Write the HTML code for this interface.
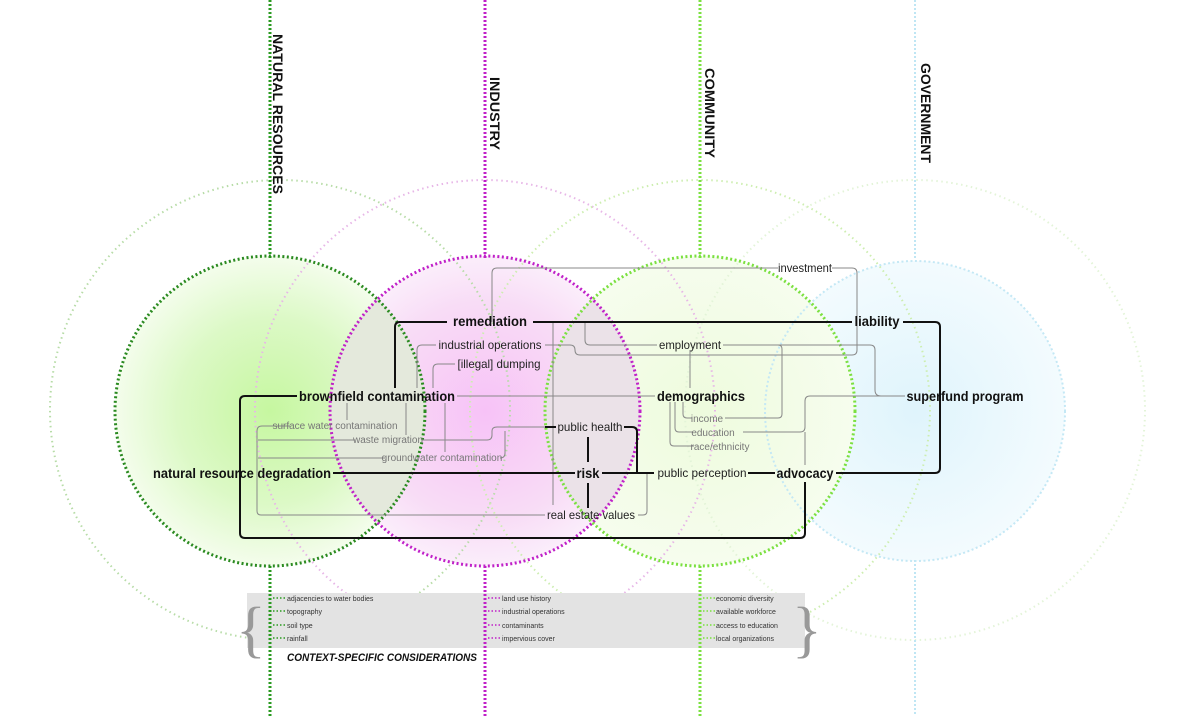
<!DOCTYPE html>
<html><head><meta charset="utf-8"><style>
html,body{margin:0;padding:0;background:#fff;}
svg{display:block;font-family:"Liberation Sans",sans-serif;}
.b{font-weight:bold;font-size:14px;fill:#111;}
.r{font-size:12px;fill:#222;}
.s{font-size:10px;fill:#777;}
.t{font-size:7px;fill:#333;}
.k{fill:none;stroke:#111;stroke-width:2;}
.g{fill:none;stroke:#888;stroke-width:1;}
</style></head><body>
<svg width="1200" height="716" viewBox="0 0 1200 716">
<defs>
<radialGradient id="gG"><stop offset="0" stop-color="#c6f7a0"/><stop offset="0.6" stop-color="#dcf9c6"/><stop offset="1" stop-color="#f4fdec"/></radialGradient>
<radialGradient id="gM"><stop offset="0" stop-color="#f7c2f7"/><stop offset="0.7" stop-color="#f8dcf6"/><stop offset="1" stop-color="#fbeefb"/></radialGradient>
<radialGradient id="gL"><stop offset="0" stop-color="#eefbdd"/><stop offset="1" stop-color="#f6fdee"/></radialGradient>
<radialGradient id="gB"><stop offset="0" stop-color="#dff4fc"/><stop offset="1" stop-color="#f3fbfe"/></radialGradient>
</defs>
<!-- fills -->
<circle cx="270" cy="411" r="155" fill="url(#gG)"/>
<circle cx="915" cy="411" r="150" fill="url(#gB)"/>
<circle cx="700" cy="411" r="155" fill="url(#gL)"/>
<circle cx="485" cy="411" r="155" fill="url(#gM)"/>
<path d="M377.5 299 A155 155 0 0 1 377.5 523 A155 155 0 0 1 377.5 299Z" fill="#e4e9dc"/>
<path d="M592.5 299 A155 155 0 0 1 592.5 523 A155 155 0 0 1 592.5 299Z" fill="#ebe2e8"/>
<!-- big faint circles -->
<g fill="none" stroke-width="2" stroke-dasharray="1.5 3.5">
<circle cx="280" cy="410" r="230" stroke="#b7dca7"/>
<circle cx="485" cy="410" r="230" stroke="#e7b6e7"/>
<circle cx="700" cy="410" r="230" stroke="#cdeeb0"/>
<circle cx="915" cy="410" r="230" stroke="#e3f4d8"/>
</g>
<!-- bottom box -->
<rect x="247" y="593" width="558" height="55" fill="#e3e3e3"/>
<text x="236" y="650" font-size="62" fill="#999" font-family="Liberation Serif">{</text>
<text x="792" y="650" font-size="62" fill="#999" font-family="Liberation Serif">}</text>
<!-- axes -->
<g stroke-width="3" stroke-dasharray="2 2" fill="none">
<path d="M270 0V258M270 566V716" stroke="#2a9a20"/>
<path d="M485 0V258M485 566V716" stroke="#c020c8"/>
<path d="M700 0V258M700 566V716" stroke="#7be040"/>
<path d="M915 0V260M915 560V716" stroke="#bfe6f4" stroke-width="2"/>
</g>
<!-- small circles -->
<g fill="none" stroke-width="3" stroke-dasharray="2 2.5">
<circle cx="270" cy="411" r="155" stroke="#2a8a20"/>
<circle cx="485" cy="411" r="155" stroke="#c020c8"/>
<circle cx="700" cy="411" r="155" stroke="#7be040"/>
<circle cx="915" cy="411" r="150" stroke="#c4e8f5" stroke-width="2"/>
</g>
<!-- titles -->
<g class="b" font-size="14">
<text transform="translate(273,34) rotate(90)" textLength="160" lengthAdjust="spacingAndGlyphs">NATURAL RESOURCES</text>
<text transform="translate(490,77) rotate(90)" textLength="73" lengthAdjust="spacingAndGlyphs">INDUSTRY</text>
<text transform="translate(705,68) rotate(90)" textLength="90" lengthAdjust="spacingAndGlyphs">COMMUNITY</text>
<text transform="translate(921,63) rotate(90)" textLength="100" lengthAdjust="spacingAndGlyphs">GOVERNMENT</text>
</g>
<!-- thin gray connectors -->
<g class="g">
<path d="M492 322V273q0-5 5-5H778M832 268H852q5 0 5 5V350q0 5-5 5H580q-5 0-5-5V350q0-5-5-5H545"/>
<path d="M585 322V340q0 5 5 5H657M723 345H778q4 0 4 4V414q0 4-4 4H725M723 345H870q5 0 5 5V390q0 6 6 6H905"/>
<path d="M690 350V388"/>
<path d="M457 396H655"/>
<path d="M683 402V414q0 4 4 4H692M675 402V428q0 4 4 4H693M670 402V442q0 4 4 4H694"/>
<path d="M743 432H800q5 0 5-5V401q0-5 5-5H905M805 432V465"/>
<path d="M290 426H262q-5 0-5 5V511q0 4 4 4H545M638 515h5q4 0 4-4V473"/>
<path d="M258 440H355M422 440H487q5 0 5-5V431q0-4 5-4H555"/>
<path d="M258 458H385M500 458H500q5 0 5-5V431"/>
<path d="M553 322V505"/>
<path d="M347 403V420M406 403V435M445 403V452"/>
<path d="M436 345H422q-5 0-5 5V388M455 364H438q-5 0-5 5V388"/>
</g>
<!-- thick connectors -->
<g class="k">
<path d="M395 388V327q0-5 5-5H447M533 322H852M903 322H935q5 0 5 5V468q0 5-5 5H836"/>
<path d="M297 396H245q-5 0-5 5V533q0 5 5 5H800q5 0 5-5V482"/>
<path d="M333 473H575M602 473H654M748 473H775"/>
<path d="M545 427H556M624 427H632q5 0 5 5V473"/>
<path d="M588 437V462M588 483V508"/>
</g>
<!-- bold labels -->
<g class="b" text-anchor="middle" lengthAdjust="spacingAndGlyphs">
<text x="490" y="326" textLength="74" lengthAdjust="spacingAndGlyphs">remediation</text>
<text x="877" y="326" textLength="45" lengthAdjust="spacingAndGlyphs">liability</text>
<text x="377" y="401" textLength="156" lengthAdjust="spacingAndGlyphs">brownfield contamination</text>
<text x="701" y="401" textLength="88" lengthAdjust="spacingAndGlyphs">demographics</text>
<text x="965" y="401" textLength="117" lengthAdjust="spacingAndGlyphs">superfund program</text>
<text x="242" y="478" textLength="178" lengthAdjust="spacingAndGlyphs">natural resource degradation</text>
<text x="588" y="478" textLength="23" lengthAdjust="spacingAndGlyphs">risk</text>
<text x="805" y="478" textLength="57" lengthAdjust="spacingAndGlyphs">advocacy</text>
</g>
<g class="r" text-anchor="middle">
<text x="490" y="349" textLength="103" lengthAdjust="spacingAndGlyphs">industrial operations</text>
<text x="499" y="368" textLength="83" lengthAdjust="spacingAndGlyphs">[illegal] dumping</text>
<text x="690" y="349" textLength="62" lengthAdjust="spacingAndGlyphs">employment</text>
<text x="805" y="272" textLength="54" lengthAdjust="spacingAndGlyphs">investment</text>
<text x="590" y="431" textLength="65" lengthAdjust="spacingAndGlyphs">public health</text>
<text x="702" y="477" textLength="89" lengthAdjust="spacingAndGlyphs">public perception</text>
<text x="591" y="519" textLength="88" lengthAdjust="spacingAndGlyphs">real estate values</text>
</g>
<g class="s" text-anchor="middle">
<text x="335" y="429">surface water contamination</text>
<text x="388" y="443">waste migration</text>
<text x="442" y="461">groundwater contamination</text>
<text x="707" y="422">income</text>
<text x="713" y="436">education</text>
<text x="720" y="450">race/ethnicity</text>
</g>
<!-- bottom list -->
<g stroke-width="1.5" stroke-dasharray="1.5 2">
<path d="M273 598H285M273 611H285M273 625H285M273 638H285" stroke="#2a9a20"/>
<path d="M488 598H500M488 611H500M488 625H500M488 638H500" stroke="#c020c8"/>
<path d="M703 598H715M703 611H715M703 625H715M703 638H715" stroke="#7be040"/>
</g>
<g class="t">
<text x="287" y="601">adjacencies to water bodies</text>
<text x="287" y="614">topography</text>
<text x="287" y="628">soil type</text>
<text x="287" y="641">rainfall</text>
<text x="502" y="601">land use history</text>
<text x="502" y="614">industrial operations</text>
<text x="502" y="628">contaminants</text>
<text x="502" y="641">impervious cover</text>
<text x="716" y="601">economic diversity</text>
<text x="716" y="614">available workforce</text>
<text x="716" y="628">access to education</text>
<text x="716" y="641">local organizations</text>
</g>
<text x="287" y="661" font-size="11" font-weight="bold" font-style="italic" fill="#111" textLength="190" lengthAdjust="spacingAndGlyphs">CONTEXT-SPECIFIC CONSIDERATIONS</text>
</svg>
</body></html>
